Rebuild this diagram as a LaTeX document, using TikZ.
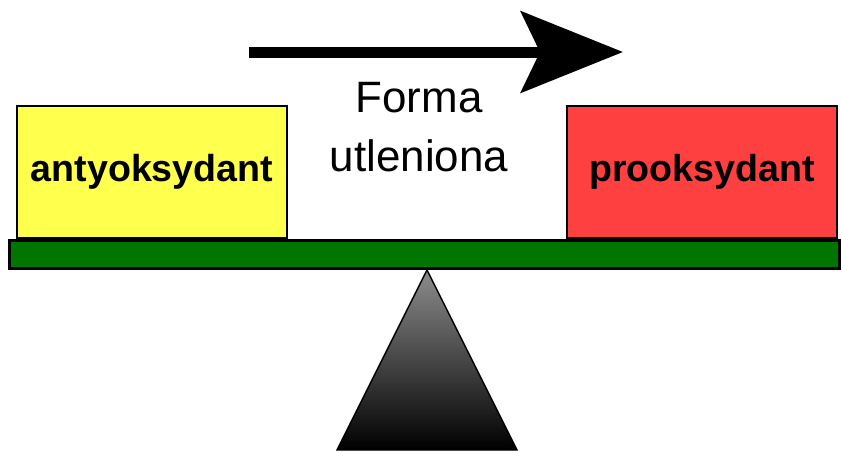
\documentclass[tikz,border=0pt]{standalone}
\usepackage{fontspec}
\setmainfont{Liberation Sans}
\usetikzlibrary{positioning,shapes,arrows.meta}
\usepackage{xcolor}
\definecolor{antyYellow}{RGB}{255,255,77}
\definecolor{proRed}{RGB}{255,64,64}
\definecolor{beamGreen}{RGB}{0,118,0}

\begin{document}
\begin{tikzpicture}[x=0.02cm, y=-0.02cm,
    box/.style={draw, thick, minimum width=5.4cm, minimum height=2.64cm, font=\bfseries\fontsize{21.4}{25}\selectfont}]
    \useasboundingbox (0,0) rectangle (841,451);

    \node (anty) [box, fill=antyYellow] at (152,172) {antyoksydant};
    \node (pro) [box, fill=proRed] at (702,172) {prooksydant};
    \node (beam) [draw, line width=1.7pt, fill=beamGreen, minimum width=16.62cm, minimum height=0.56cm, inner sep=0pt] at (424.5,254) {};
    \node (label) [align=center, font=\fontsize{25}{33.6}\selectfont] at (419,127) {Forma\\utleniona};

    % fulcrum
    \shade[top color=black!45, bottom color=black, draw=black, thick] (427,270) -- (337,450) -- (517,450) -- cycle;

    \coordinate (arrowstart) at (249,52);
    \coordinate (arrowend) at (623,52);
    \draw[-{Stealth[length=2.04cm, width=1.62cm, inset=0.38cm]}, line width=0.22cm] (arrowstart) -- (arrowend);
\end{tikzpicture}
\end{document}
